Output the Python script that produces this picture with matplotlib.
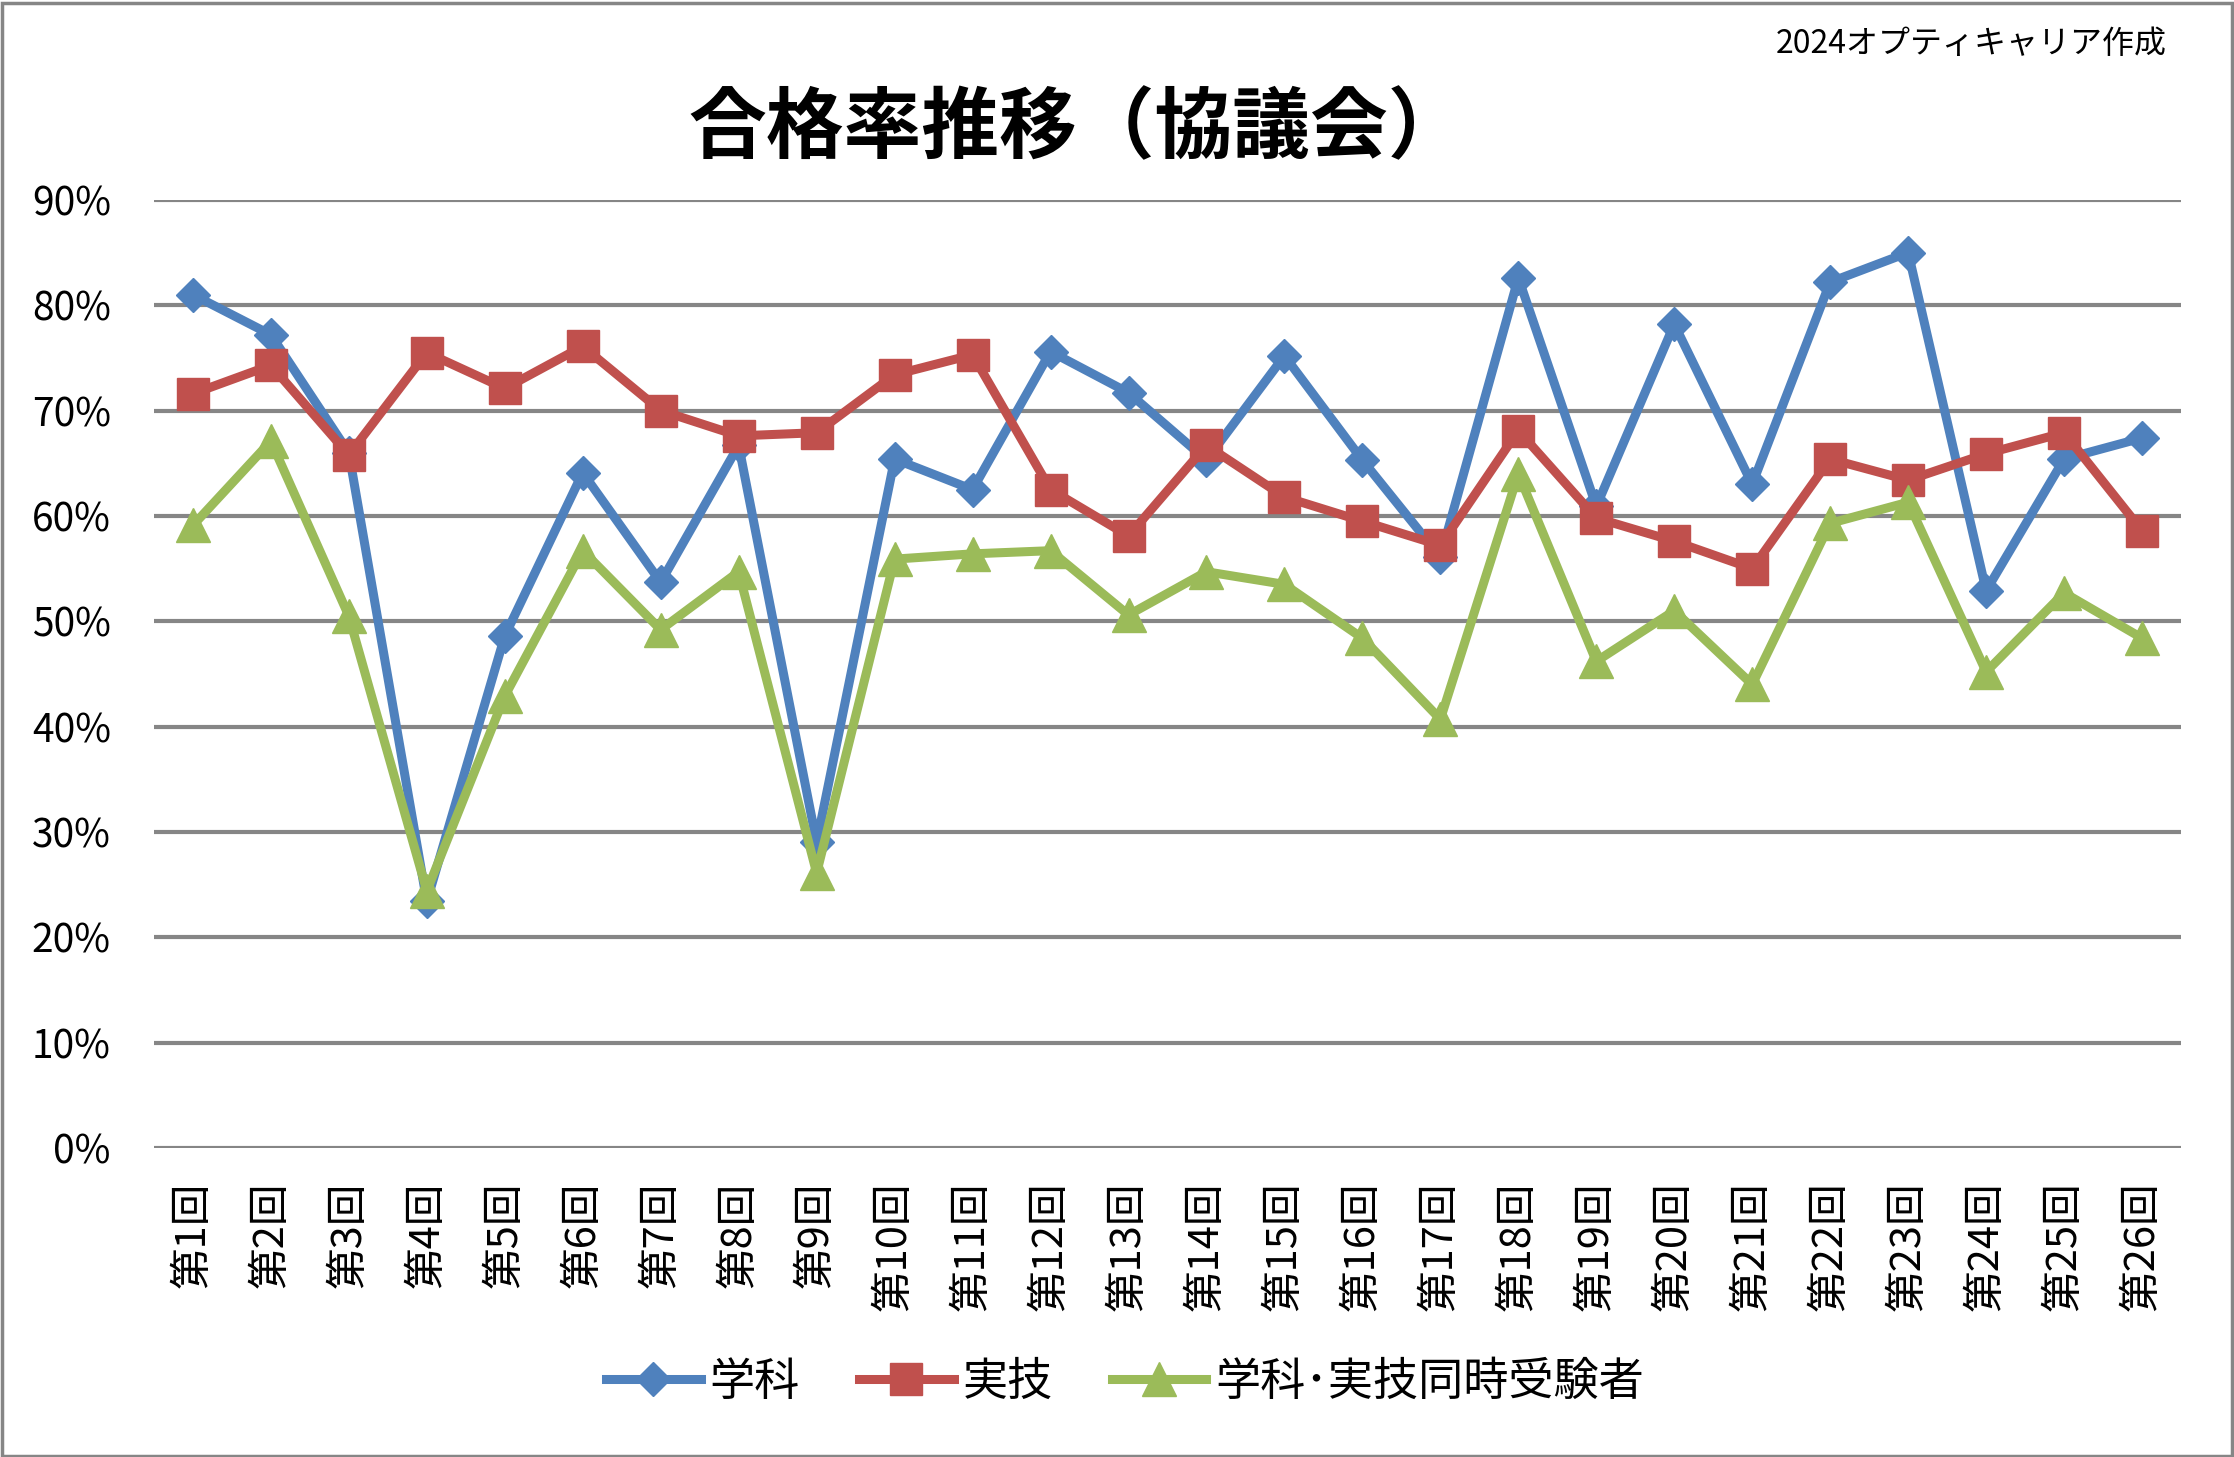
import numpy as np
import matplotlib
matplotlib.use("Agg")
import matplotlib.pyplot as plt
from matplotlib.ticker import PercentFormatter
from matplotlib.patches import Rectangle

plt.rcParams['font.family'] = ['Noto Sans CJK JP', 'DejaVu Sans']

# データ（%）
kaisu = ["第%d回" % i for i in range(1, 27)]
gakka = [81.0, 77.2, 66.0, 23.4, 48.6, 64.1, 53.7, 66.7, 29.0, 65.4,
         62.5, 75.6, 71.7, 65.3, 75.2, 65.3, 56.1, 82.6, 60.9, 78.2,
         63.0, 82.2, 85.0, 52.9, 65.4, 67.4]
jitsugi = [71.6, 74.3, 65.8, 75.5, 72.1, 76.1, 70.0, 67.6, 67.9, 73.4,
           75.3, 62.5, 58.1, 66.7, 61.8, 59.5, 57.2, 68.1, 59.8, 57.6,
           55.0, 65.4, 63.4, 65.9, 67.9, 58.6]
doji = [59.1, 67.1, 50.5, 24.4, 42.9, 56.7, 49.2, 54.7, 26.1, 55.9,
        56.4, 56.7, 50.6, 54.7, 53.5, 48.4, 40.7, 64.0, 46.2, 51.0,
        44.0, 59.3, 61.3, 45.2, 52.7, 48.4]
yticks = [0, 10, 20, 30, 40, 50, 60, 70, 80, 90]

c_blue = '#4F81BD'
c_red = '#C0504D'
c_green = '#9BBB59'
c_grid = '#868686'

fig = plt.figure(figsize=(22.34, 14.57), dpi=100)
ax = fig.add_axes([0.0689, 0.2121, 0.9074, 0.6507])

x = np.arange(len(kaisu))
ax.plot(x, np.array(gakka) / 100, color=c_blue, lw=6.5, marker='D', ms=17,
        markeredgecolor=c_blue, label='学科', zorder=3)
ax.plot(x, np.array(jitsugi) / 100, color=c_red, lw=6.5, marker='s', ms=23,
        markeredgecolor=c_red, label='実技', zorder=4)
ax.plot(x, np.array(doji) / 100, color=c_green, lw=6.5, marker='^', ms=24,
        markeredgecolor=c_green, label='学科･実技同時受験者', zorder=5)

ax.set_xlim(-0.5, len(kaisu) - 0.5)
ax.set_ylim(0, 0.9)
ax.set_yticks(np.array(yticks) / 100)
ax.yaxis.set_major_formatter(PercentFormatter(1.0, decimals=0))
ax.set_xticks(x)
ax.set_xticklabels(kaisu, rotation=90, va='top', ha='center')
ax.tick_params(axis='y', length=0, labelsize=28, pad=31)
ax.tick_params(axis='x', length=0, labelsize=30, pad=24)
ax.grid(axis='y', color=c_grid, lw=3)
ax.set_axisbelow(True)
for s in ax.spines.values():
    s.set_visible(False)

fig.text(0.482, 0.911, '合格率推移（協議会）', ha='center', va='center',
         fontsize=56, fontweight='bold')
fig.text(0.970, 0.970, '2024オプティキャリア作成', ha='right', va='center',
         fontsize=23)

fig.legend(loc='center', bbox_to_anchor=(0.5036, 0.0515), ncol=3,
           frameon=False, fontsize=32.5, handlelength=2.1, handletextpad=0.2,
           columnspacing=1.3)

# 外枠
fig.patches.append(Rectangle((0.001, 0.001), 0.998, 0.997, transform=fig.transFigure,
                             fill=False, edgecolor=c_grid, lw=2.5))

fig.savefig('out.png', dpi=100, facecolor='white')
